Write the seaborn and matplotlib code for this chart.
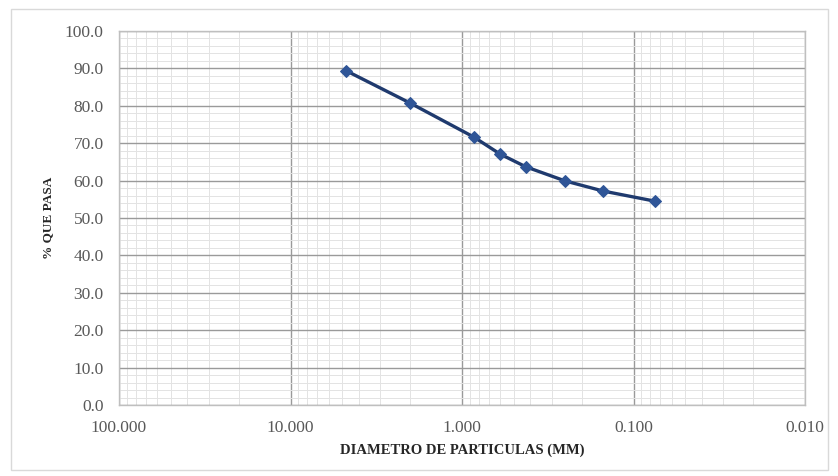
import matplotlib
matplotlib.use("Agg")
import matplotlib.pyplot as plt
import seaborn as sns
import pandas as pd
import numpy as np
from matplotlib.ticker import FixedLocator, FuncFormatter, LogLocator, MultipleLocator, NullFormatter
from matplotlib.patches import Rectangle

diametro_mm = [4.75, 2.00, 0.85, 0.60, 0.425, 0.25, 0.15, 0.075]
pct_pasa = [89.4, 80.7, 71.6, 67.1, 63.7, 59.9, 57.2, 54.5]
x_ticks = [100, 10, 1, 0.1, 0.01]
y_ticks = [0, 10, 20, 30, 40, 50, 60, 70, 80, 90, 100]

sns.set_theme(style="white")
plt.rcParams['font.family'] = ['Liberation Serif', 'DejaVu Serif']

df = pd.DataFrame({"d": diametro_mm, "p": pct_pasa})

fig = plt.figure(figsize=(8.38, 4.76), dpi=100)
fig.patch.set_facecolor("white")
fig.patches.append(Rectangle((11/838, 1 - 470/476), (828-11)/838, (470-9)/476,
                             transform=fig.transFigure, fill=False,
                             edgecolor="#d9d9d9", linewidth=1.0))
ax = fig.add_axes([119/838, 1 - 405/476, (805-119)/838, (405-31)/476])

sns.lineplot(data=df, x="d", y="p", ax=ax, color="#1f3a6e", linewidth=2.4,
             marker="D", markersize=6.5, markerfacecolor="#2f5597",
             markeredgecolor="#2f5597", zorder=5)

ax.set_xscale("log")
ax.set_xlim(100, 0.01)
ax.set_ylim(0, 100)
ax.xaxis.set_major_locator(FixedLocator(x_ticks))
ax.xaxis.set_major_formatter(FuncFormatter(lambda v, p: f"{v:.3f}"))
ax.xaxis.set_minor_locator(LogLocator(base=10, subs=np.arange(2, 10)))
ax.xaxis.set_minor_formatter(NullFormatter())
ax.yaxis.set_major_locator(FixedLocator(y_ticks))
ax.yaxis.set_major_formatter(FuncFormatter(lambda v, p: f"{v:.1f}"))
ax.yaxis.set_minor_locator(MultipleLocator(2))

ax.grid(which="major", color="#9a9a9a", linewidth=1.0)
ax.grid(which="minor", color="#e3e3e3", linewidth=0.7)
ax.set_axisbelow(True)
for s in ax.spines.values():
    s.set_color("#bfbfbf")
    s.set_linewidth(1.0)

ax.tick_params(axis="both", which="both", length=0, labelsize=12.5,
               labelcolor="#595959")
ax.tick_params(axis="x", pad=11)
ax.tick_params(axis="y", pad=11)
ax.set_xlabel("DIAMETRO DE PARTICULAS (MM)", fontsize=10.5, fontweight="bold",
              color="#262626", labelpad=5)
ax.set_ylabel("% QUE PASA", fontsize=9.5, fontweight="bold", color="#262626",
              labelpad=8)

fig.savefig("out.png", dpi=100, facecolor="white")
